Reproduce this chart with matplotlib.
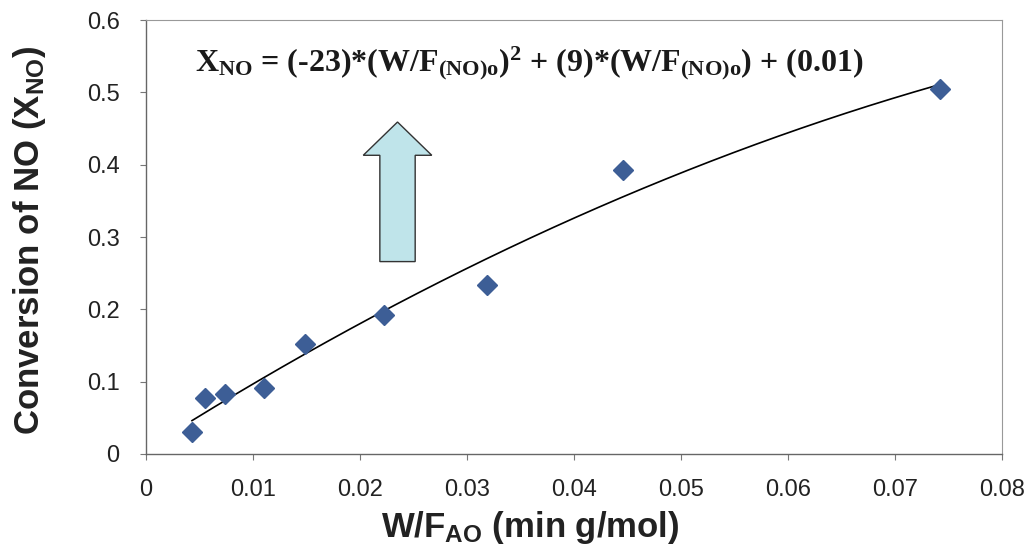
import numpy as np
import matplotlib
matplotlib.use("Agg")
import matplotlib.pyplot as plt
from matplotlib.patches import FancyArrow

# Data
w_f = [0.0043, 0.0055, 0.0074, 0.0110, 0.0149, 0.0222, 0.0319, 0.0446, 0.0742]
conv = [0.031, 0.077, 0.083, 0.091, 0.152, 0.192, 0.233, 0.392, 0.505]
x_ticks = [0, 0.01, 0.02, 0.03, 0.04, 0.05, 0.06, 0.07, 0.08]
x_tick_labels = ["0", "0.01", "0.02", "0.03", "0.04", "0.05", "0.06", "0.07", "0.08"]
y_ticks = [0, 0.1, 0.2, 0.3, 0.4, 0.5, 0.6]
y_tick_labels = ["0", "0.1", "0.2", "0.3", "0.4", "0.5", "0.6"]

plt.rcParams['font.family'] = ['Liberation Sans', 'DejaVu Sans']
plt.rcParams['mathtext.fontset'] = 'custom'
plt.rcParams['mathtext.rm'] = 'Liberation Serif:bold'
plt.rcParams['mathtext.bf'] = 'Liberation Serif:bold'
plt.rcParams['mathtext.it'] = 'Liberation Serif:bold'
plt.rcParams['mathtext.sf'] = 'Liberation Sans:bold'

fig = plt.figure(figsize=(10.33, 5.57), dpi=100)
ax = fig.add_axes([0.1413, 0.185, 0.829, 0.779])

# quadratic trendline fitted to the data
coef = np.polyfit(w_f, conv, 2)
xs = np.linspace(min(w_f), max(w_f), 200)
ax.plot(xs, np.polyval(coef, xs), color='black', lw=1.2, zorder=2)

ax.plot(w_f, conv, linestyle='none', marker='D', ms=10.5, color='#3d5e96',
        markeredgecolor='#3d5e96', zorder=3)

ax.set_xlim(0, 0.08)
ax.set_ylim(0, 0.6)
ax.set_xticks(x_ticks)
ax.set_xticklabels(x_tick_labels)
ax.set_yticks(y_ticks)
ax.set_yticklabels(y_tick_labels)
ax.tick_params(axis='both', labelsize=17, length=4, width=0.8, color='#777777',
               labelcolor='#222222')
ax.tick_params(axis='x', pad=14)
ax.tick_params(axis='y', pad=15)
for side in ['left', 'bottom']:
    ax.spines[side].set_color('#666666')
    ax.spines[side].set_linewidth(1.0)
for side in ['top', 'right']:
    ax.spines[side].set_color('#999999')
    ax.spines[side].set_linewidth(0.8)

ax.set_xlabel(r'W/F$_{\mathsf{AO}}$ (min g/mol)', fontsize=25, fontweight='bold',
              color='#222222')
ax.xaxis.set_label_coords((530 - 146) / 856, -(528 - 454) / 434, transform=ax.transAxes)
ax.xaxis.label.set_va('center')
ax.set_ylabel(r'Conversion of NO (X$_{\mathsf{NO}}$)', fontsize=25, fontweight='bold',
              color='#222222')
ax.yaxis.set_label_coords(-(146 - 30) / 856, (454 - 240) / 434, transform=ax.transAxes)
ax.yaxis.label.set_va('center')

# arrow annotation
arr = FancyArrow(0.0235, 0.266, 0, 0.193, width=0.0033, head_width=0.0064,
                 head_length=0.046, length_includes_head=True,
                 facecolor='#bfe4ea', edgecolor='#333333', lw=1.0, zorder=2)
ax.add_patch(arr)

ax.text(0.0046, 0.541,
        r'X$_{\mathrm{NO}}$ = (-23)*(W/F$_{\mathrm{(NO)o}}$)$^{\mathrm{2}}$ + (9)*(W/F$_{\mathrm{(NO)o}}$) + (0.01)',
        fontsize=23, fontfamily=['Liberation Serif'], fontweight='bold',
        ha='left', va='center', color='#1a1a1a')

fig.savefig('out.png', dpi=100)
